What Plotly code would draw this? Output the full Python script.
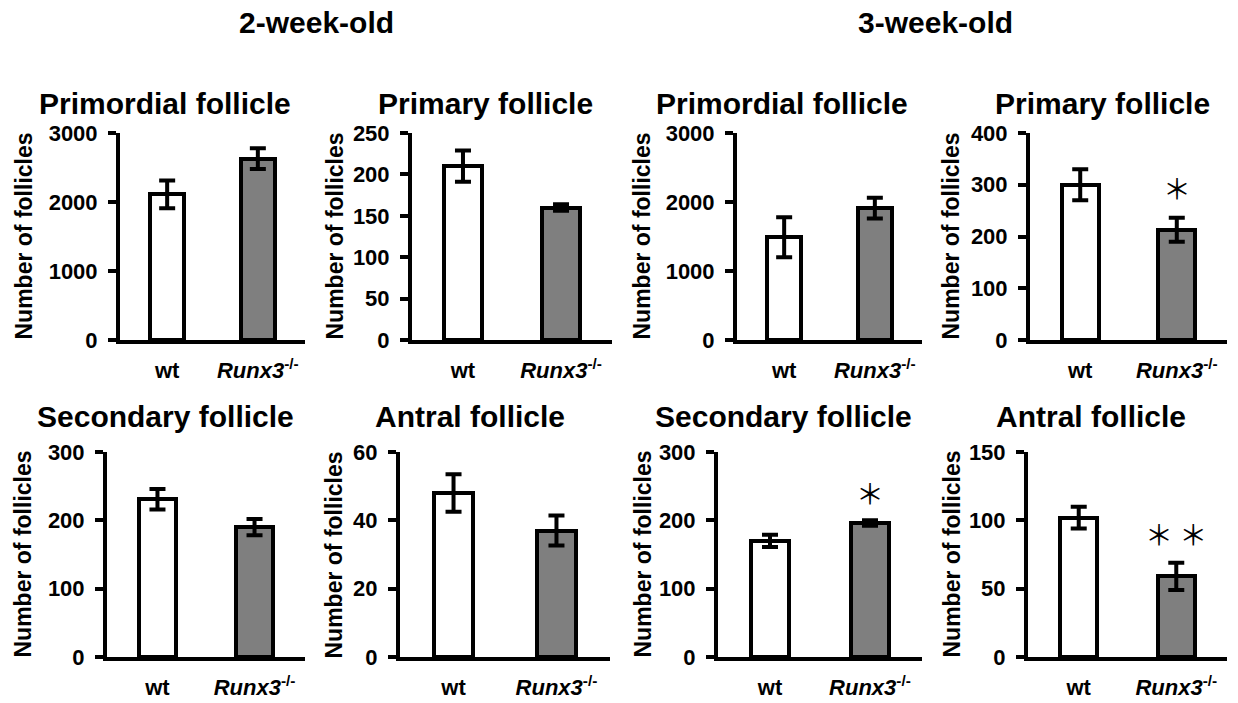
import plotly.graph_objects as go

W, H = 1238, 703

groups = ["wt", "<i>Runx3</i><sup>-/-</sup>"]
panel_titles = ["Primordial follicle", "Primary follicle", "Primordial follicle", "Primary follicle",
                "Secondary follicle", "Antral follicle", "Secondary follicle", "Antral follicle"]
# order: 2wk primordial, 2wk primary, 3wk primordial, 3wk primary,
#        2wk secondary, 2wk antral, 3wk secondary, 3wk antral
wt_mean = [2110, 210, 1490, 300, 231, 48, 170, 102]
wt_err = [200, 19, 290, 30, 15, 5.5, 9, 8]
ko_mean = [2630, 160, 1910, 213, 190, 37, 196, 59]
ko_err = [150, 4, 150, 23, 12, 4.4, 4, 10]
y_max = [3000, 250, 3000, 400, 300, 60, 300, 150]
y_dtick = [1000, 50, 1000, 100, 100, 20, 100, 50]
significance = ["", "", "", "＊", "", "", "＊", "＊ ＊"]
age_headers = ["2-week-old", "3-week-old"]

# layout in pixels (left, right) of each plot area; rows (top, zero)
x_px = [(120, 305), (412, 612), (737, 922), (1030, 1227),
        (107, 305), (400, 610), (718, 922), (1028, 1227)]
row_px = [(133, 340), (452, 657)]
ytitle_x = [24, 335, 642, 951, 22, 333, 642, 951]
title_x = [165, 486, 782, 1102, 165, 470, 783, 1091]
title_y = [104, 416]
header_x = [316, 935]
sig_shift = [0, 0, 0, 30, 0, 0, 27, 29]

FONT = "Liberation Sans, Arial, sans-serif"
fig = go.Figure()
annotations = []
layout = {}

for i in range(8):
    n = i + 1
    xa = "x" if n == 1 else f"x{n}"
    ya = "y" if n == 1 else f"y{n}"
    row = 0 if i < 4 else 1
    top, zero = row_px[row]
    fig.add_trace(go.Bar(
        x=[0, 1], y=[wt_mean[i], ko_mean[i]],
        width=0.38,
        marker=dict(color=["#ffffff", "#7f7f7f"], line=dict(color="black", width=4)),
        error_y=dict(type="data", array=[wt_err[i], ko_err[i]], color="black", thickness=4, width=8),
        xaxis=xa, yaxis=ya, showlegend=False, hoverinfo="skip",
    ))
    l, r = x_px[i]
    layout[f"xaxis{'' if n == 1 else n}"] = dict(
        domain=[l / W, r / W], anchor=ya, range=[-0.52, 1.52], automargin=False,
        tickmode="array", tickvals=[0, 1], ticktext=groups,
        showline=True, linecolor="black", linewidth=4, showgrid=False, zeroline=False,
        ticks="", ticklabelstandoff=8,
        tickfont=dict(family=FONT, size=22, color="black", weight="bold"),
        fixedrange=True,
    )
    layout[f"yaxis{'' if n == 1 else n}"] = dict(
        domain=[1 - zero / H, 1 - top / H], anchor=xa, range=[0, y_max[i]], automargin=False,
        dtick=y_dtick[i], tick0=0,
        showline=True, linecolor="black", linewidth=4, showgrid=False, zeroline=False,
        ticks="outside", ticklen=8, tickwidth=4, tickcolor="black", ticklabelstandoff=6,
        tickfont=dict(family=FONT, size=22, color="black", weight="bold"),
        fixedrange=True,
    )
    annotations.append(dict(
        text="Number of follicles", textangle=-90, xref="paper", yref="paper",
        x=ytitle_x[i] / W, y=1 - (top + zero) / 2 / H, xanchor="center", yanchor="middle",
        showarrow=False, font=dict(family=FONT, size=23, color="black", weight="bold"),
    ))
    annotations.append(dict(
        text=panel_titles[i], xref="paper", yref="paper",
        x=title_x[i] / W, y=1 - title_y[row] / H, xanchor="center", yanchor="middle",
        showarrow=False, font=dict(family=FONT, size=30, color="black", weight="bold"),
    ))
    if significance[i]:
        annotations.append(dict(
            text=significance[i], xref=xa, yref=ya, x=1, y=ko_mean[i] + ko_err[i],
            xanchor="center", yanchor="middle", yshift=sig_shift[i], showarrow=False,
            font=dict(family="Noto Sans CJK JP", size=28, color="black"),
        ))

for k, h in enumerate(age_headers):
    annotations.append(dict(
        text=h, xref="paper", yref="paper", x=header_x[k] / W, y=1 - 22 / H,
        xanchor="center", yanchor="middle", showarrow=False,
        font=dict(family=FONT, size=30, color="black", weight="bold"),
    ))

fig.update_layout(
    template="none",
    width=W, height=H, margin=dict(l=0, r=0, t=0, b=0, autoexpand=False),
    paper_bgcolor="white", plot_bgcolor="white",
    annotations=annotations, bargap=0, **layout,
)
fig.write_html("out.html", config={"displayModeBar": False},
               post_script="document.body.style.margin='0';")
